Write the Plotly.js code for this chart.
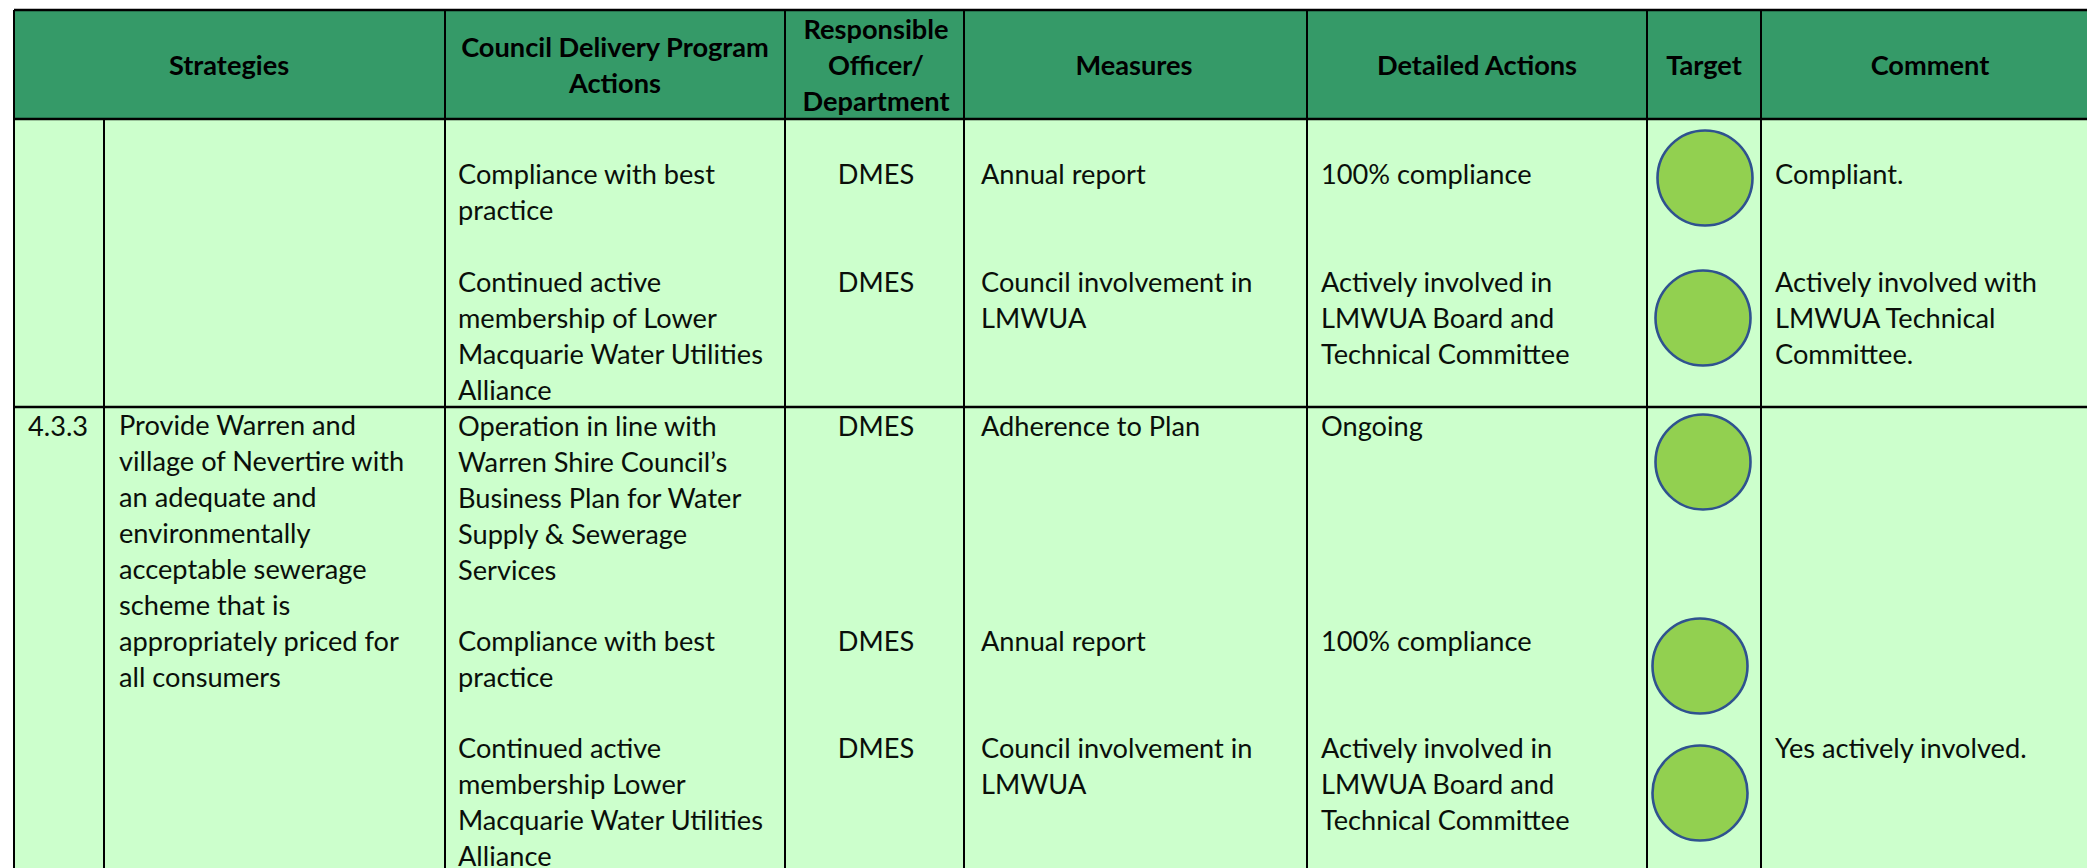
<!DOCTYPE html>
<html><head><meta charset="utf-8">
<script src="https://cdn.plot.ly/plotly-3.0.1.min.js"></script>
<style>html,body{margin:0;padding:0;background:#fff}#c{width:2087px;height:868px}</style></head>
<body><div id="c"></div>
<script>
const headers = ['Strategies','Council Delivery Program\nActions','Responsible\nOfficer/\nDepartment','Measures','Detailed Actions','Target','Comment'];
const strategyIds = ['4.3.3'];
const strategyText = ['Provide Warren and\nvillage of Nevertire with\nan adequate and\nenvironmentally\nacceptable sewerage\nscheme that is\nappropriately priced for\nall consumers'];
const actions = ['Compliance with best\npractice','Continued active\nmembership of Lower\nMacquarie Water Utilities\nAlliance','Operation in line with\nWarren Shire Council’s\nBusiness Plan for Water\nSupply & Sewerage\nServices','Compliance with best\npractice','Continued active\nmembership Lower\nMacquarie Water Utilities\nAlliance'];
const officers = ['DMES','DMES','DMES','DMES','DMES'];
const measures = ['Annual report','Council involvement in\nLMWUA','Adherence to Plan','Annual report','Council involvement in\nLMWUA'];
const detailed = ['100% compliance','Actively involved in\nLMWUA Board and\nTechnical Committee','Ongoing','100% compliance','Actively involved in\nLMWUA Board and\nTechnical Committee'];
const comments = ['Compliant.','Actively involved with\nLMWUA Technical\nCommittee.','','','Yes actively involved.'];

// layout geometry (page pixels)
const colEdges = [14,104,445,785,964,1307,1647,1761,2087];
const headTop = 10, headBottom = 119, rowSplit = 407, pageBottom = 868;
const rowFirstLine = [177,285,429,644,751];
const lineH = 36;
const targetX = [1705,1703,1703,1700,1700];
const targetY = [178,318,462,666,793];
const headColor = '#359A68', bodyColor = '#CCFFCC', inkBody = '#0a0f0a', inkHead = '#000';
const fontFace = 'Lato, Carlito, Calibri, sans-serif', fontSize = 27.2;

function lines(list, x, mapY){
  const o = {x:[],y:[],text:[]};
  list.forEach((cell,i)=>{ if(!cell) return;
    cell.split('\n').forEach((t,j)=>{ o.x.push(x); o.y.push(mapY(i,j)); o.text.push(t); }); });
  return o;
}
const byRow = (i,j)=>rowFirstLine[i]+j*lineH;
const merge = arr => arr.reduce((a,b)=>({x:a.x.concat(b.x),y:a.y.concat(b.y),text:a.text.concat(b.text)}),{x:[],y:[],text:[]});

const leftBody = merge([
  lines(strategyIds,28,(i,j)=>429+j*lineH),
  lines(strategyText,119,(i,j)=>428.6+j*35.9),
  lines(actions,458,byRow),
  lines(measures,981,byRow),
  lines(detailed,1321,byRow),
  lines(comments,1775,byRow)
]);
const centerBody = lines(officers,876,byRow);
const headCenters = [229,615,876,1134,1477,1704,1930];
const headTxt = merge(headers.map((h,k)=>{
  const n = h.split('\n').length;
  return lines([h],headCenters[k],(i,j)=>68+(j-(n-1)/2)*lineH);
}));

const rect=(x0,x1,y0,y1,c)=>({type:'rect',xref:'x',yref:'y',x0,x1,y0,y1,fillcolor:c,line:{width:0},layer:'below'});
const vline=(x,y0,y1)=>({type:'line',xref:'x',yref:'y',x0:x,x1:x,y0,y1,line:{color:'#000',width:2},layer:'below'});
const hline=(y,x0,x1,w)=>({type:'line',xref:'x',yref:'y',x0,x1,y0:y,y1:y,line:{color:'#000',width:w||2.5},layer:'below'});
const R = colEdges[colEdges.length-1];
const shapes=[
  rect(colEdges[0],R,headTop,headBottom,headColor),
  rect(colEdges[0],R,headBottom,pageBottom,bodyColor),
  hline(headTop,colEdges[0],R),hline(headBottom,colEdges[0],R),hline(rowSplit,colEdges[0],R),
  vline(colEdges[0],headTop,pageBottom),
  vline(colEdges[1],headBottom,pageBottom),
  ...colEdges.slice(2,-1).map(x=>vline(x,headTop,pageBottom))
];

const data=[
 {type:'scatter',mode:'markers',x:targetX,y:targetY,hoverinfo:'skip',
  marker:{size:95,color:'#92D050',line:{color:'#2F528F',width:2.6}}},
 {type:'scatter',mode:'text',x:leftBody.x,y:leftBody.y,text:leftBody.text,textposition:'middle right',hoverinfo:'skip',
  textfont:{family:fontFace,size:fontSize,color:inkBody}},
 {type:'scatter',mode:'text',x:centerBody.x,y:centerBody.y,text:centerBody.text,textposition:'middle center',hoverinfo:'skip',
  textfont:{family:fontFace,size:fontSize,color:inkBody}},
 {type:'scatter',mode:'text',x:headTxt.x,y:headTxt.y,text:headTxt.text.map(t=>'<b>'+t+'</b>'),textposition:'middle center',hoverinfo:'skip',
  textfont:{family:fontFace,size:fontSize,color:inkHead}}
];
const layout={width:2087,height:868,margin:{l:0,r:0,t:0,b:0,pad:0},showlegend:false,paper_bgcolor:'#fff',plot_bgcolor:'#fff',
 xaxis:{range:[0,2087],visible:false,fixedrange:true},
 yaxis:{range:[868,0],visible:false,fixedrange:true},
 shapes};
Plotly.newPlot('c',data,layout,{displayModeBar:false,staticPlot:true});
</script></body></html>
